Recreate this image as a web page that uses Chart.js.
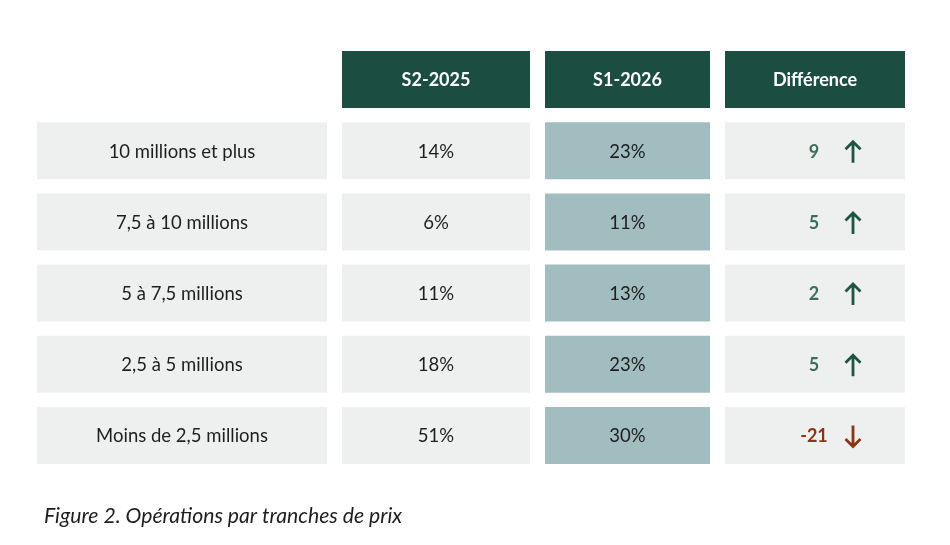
<!DOCTYPE html>
<html>
<head>
<meta charset="utf-8">
<script src="https://cdn.jsdelivr.net/npm/chart.js@4.4.1/dist/chart.umd.min.js"></script>
<style>
  html, body { margin: 0; padding: 0; background: #fff; }
  #wrap { width: 950px; height: 545px; }
</style>
</head>
<body>
<div id="wrap"><canvas id="tablechart"></canvas></div>
<script>
// data
var headers = ["S2-2025", "S1-2026", "Différence"];
var categories = ["10 millions et plus", "7,5 à 10 millions", "5 à 7,5 millions", "2,5 à 5 millions", "Moins de 2,5 millions"];
var s2025 = [14, 6, 11, 18, 51];
var s2026 = [23, 11, 13, 23, 30];
var difference = [9, 5, 2, 5, -21];
var caption = "Figure 2. Opérations par tranches de prix";

// layout: column spans on a 0..950 pixel-like x scale
var columns = [
  { from: 37, to: 327, bg: "#edf0ef" },
  { from: 342, to: 530, bg: "#edf0ef" },
  { from: 545, to: 710, bg: "#a1bdbf" },
  { from: 725, to: 905, bg: "#edf0ef" }
];
var headerColor = "#1b4e40";
var textColor = "#1e1e1e";
var upColor = "#1d5443";
var upTextColor = "#3e6e5a";
var downColor = "#8a3518";
var bodyFont = "Lato, 'Noto Sans', sans-serif";

var rowLabels = ["header"].concat(categories);

function spanData(col, withHeader) {
  var out = [];
  for (var i = 0; i < rowLabels.length; i++) {
    if (i === 0 && !withHeader) out.push(null);
    else out.push([columns[col].from, columns[col].to]);
  }
  return out;
}

function spanColors(col) {
  var out = [headerColor];
  for (var i = 0; i < categories.length; i++) out.push(columns[col].bg);
  return out;
}

var datasets = [];
for (var c = 0; c < columns.length; c++) {
  datasets.push({
    label: c === 0 ? "Tranche" : headers[c - 1],
    data: spanData(c, c > 0),
    backgroundColor: spanColors(c),
    borderWidth: 0,
    borderSkipped: false,
    categoryPercentage: 1,
    barPercentage: 0.8
  });
}

function drawArrow(ctx, x, cy, up, color) {
  var h = 22, head = 7.5;
  var top = cy - h / 2, bottom = cy + h / 2;
  ctx.save();
  ctx.strokeStyle = color;
  ctx.lineWidth = 2.8;
  ctx.lineCap = "butt";
  ctx.lineJoin = "miter";
  ctx.beginPath();
  if (up) {
    ctx.moveTo(x, top + 1);
    ctx.lineTo(x, bottom);
    ctx.moveTo(x - head, top + head + 1);
    ctx.lineTo(x, top + 1);
    ctx.lineTo(x + head, top + head + 1);
  } else {
    ctx.moveTo(x, top);
    ctx.lineTo(x, bottom - 1);
    ctx.moveTo(x - head, bottom - head - 1);
    ctx.lineTo(x, bottom - 1);
    ctx.lineTo(x + head, bottom - head - 1);
  }
  ctx.stroke();
  ctx.restore();
}

var cellText = {
  id: "cellText",
  afterDatasetsDraw: function (chart) {
    var ctx = chart.ctx;
    ctx.save();
    ctx.textAlign = "center";
    ctx.textBaseline = "middle";
    for (var c = 0; c < columns.length; c++) {
      var meta = chart.getDatasetMeta(c);
      meta.data.forEach(function (bar, i) {
        if (!bar || chart.data.datasets[c].data[i] === null) return;
        var cx = (bar.x + bar.base) / 2;
        var cy = bar.y + 1;
        if (i === 0) {
          ctx.font = "bold 18px " + bodyFont;
          ctx.fillStyle = "#ffffff";
          ctx.fillText(headers[c - 1], cx, cy);
          return;
        }
        var r = i - 1;
        ctx.font = "18.5px " + bodyFont;
        ctx.fillStyle = textColor;
        if (c === 0) ctx.fillText(categories[r], cx, cy);
        else if (c === 1) ctx.fillText(s2025[r] + "%", cx, cy);
        else if (c === 2) ctx.fillText(s2026[r] + "%", cx, cy);
        else {
          var d = difference[r];
          var up = d >= 0;
          ctx.font = "bold 18px " + bodyFont;
          ctx.fillStyle = up ? upTextColor : downColor;
          ctx.fillText(String(d), cx - 1, cy);
          drawArrow(ctx, cx + 38, cy, up, up ? upColor : downColor);
        }
      });
    }
    ctx.font = "italic 21.2px " + bodyFont;
    ctx.fillStyle = textColor;
    ctx.textAlign = "left";
    ctx.fillText(caption, 44, 516);
    ctx.restore();
  }
};

var chartoptions = {
  indexAxis: "y",
  responsive: true,
  maintainAspectRatio: false,
  animation: false,
  layout: { padding: { top: 44, bottom: 74, left: 0, right: 0 } },
  scales: {
    x: { type: "linear", min: 0, max: 950, display: false, stacked: false },
    y: { type: "category", labels: rowLabels, display: false, stacked: true, offset: true, grid: { display: false } }
  },
  plugins: {
    legend: { display: false },
    tooltip: { enabled: false },
    title: { display: false }
  }
};

var ctx = document.getElementById("tablechart").getContext("2d");
var TableChart = new Chart(ctx, {
  type: "bar",
  data: { labels: rowLabels, datasets: datasets },
  options: chartoptions,
  plugins: [cellText]
});
</script>
</body>
</html>
